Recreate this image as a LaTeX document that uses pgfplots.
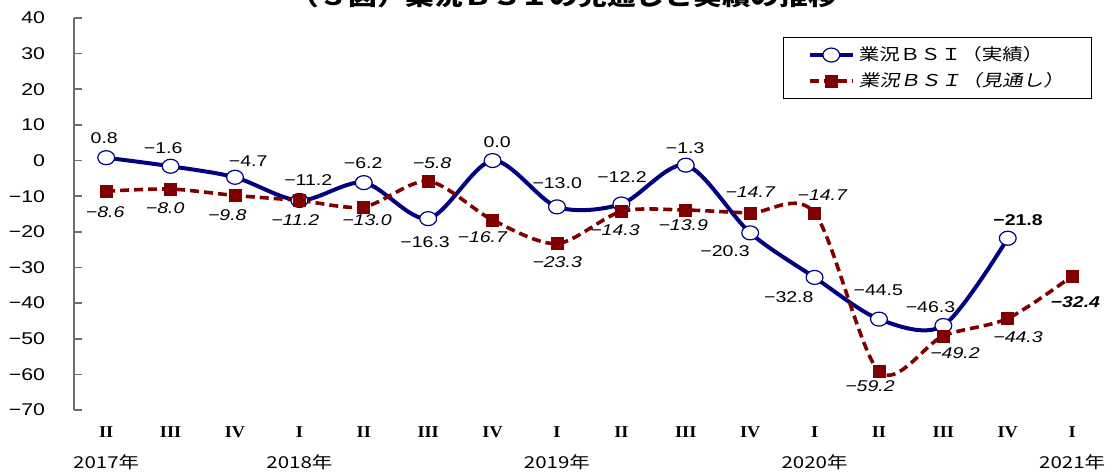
\documentclass[border=0pt]{standalone}
\usepackage{pgfplots}
\pgfplotsset{compat=1.18}
\usepackage{fontspec}
\setmainfont{Liberation Sans}[FakeStretch=1.25]
\newfontfamily\jp{Noto Sans CJK JP}[FakeStretch=1.25]
\newfontfamily\jpsl{Noto Sans CJK JP}[FakeStretch=1.25,FakeSlant=0.2]
\newfontfamily\rom{Liberation Serif}[FakeStretch=1.1]
\definecolor{bsiblue}{RGB}{0,0,128}
\definecolor{bsired}{RGB}{128,0,0}
\definecolor{axgray}{RGB}{110,110,110}
\begin{document}
\begin{tikzpicture}
\begin{axis}[
  at={(37pt,30.5pt)}, anchor=south west,
  scale only axis, width=518.4pt, height=196pt,
  xmin=-0.5, xmax=15.6, ymin=-70, ymax=40,
  axis x line=none, axis y line*=left,
  y axis line style={-, axgray, line width=0.8pt},
  ytick={-70,-60,-50,-40,-30,-20,-10,0,10,20,30,40},
  yticklabels={−70,−60,−50,−40,−30,−20,−10,0,10,20,30,40},
  tick align=inside, major tick length=4pt,
  ytick style={axgray, line width=0.8pt},
  yticklabel style={font=\fontsize{8.5}{10}\selectfont, xshift=-11pt},
  clip=false,
  legend cell align=left,
  legend image code/.code={\draw[mark repeat=2,mark phase=2] plot coordinates {(0cm,0cm)(0.38cm,0cm)(0.76cm,0cm)};},
  legend style={at={(rel axis cs:0.684,0.9515)}, anchor=north west, draw=black, line width=0.5pt,
    font=\fontsize{8.2}{10}\selectfont, inner xsep=12pt, inner ysep=2.5pt, row sep=0.5pt},
]
\addplot[bsiblue, line width=2pt, smooth, mark=*, mark size=3.5pt,
  mark options={solid, fill=white, draw=bsiblue, line width=0.6pt, xscale=1.2}]
  coordinates {(0,0.8)(1,-1.6)(2,-4.7)(3,-11.2)(4,-6.2)(5,-16.3)(6,0.0)(7,-13.0)
  (8,-12.2)(9,-1.3)(10,-20.3)(11,-32.8)(12,-44.5)(13,-46.3)(14,-21.8)};
\addlegendentry{\jp 業況ＢＳＩ（実績）\hspace{8pt}}
\addplot[bsired, line width=1.8pt, dash pattern=on 4.5pt off 2.5pt, smooth, mark=square*, mark size=3pt,
  mark options={solid, fill=bsired, line width=0.3pt}]
  coordinates {(0,-8.6)(1,-8.0)(2,-9.8)(3,-11.2)(4,-13.0)(5,-5.8)(6,-16.7)(7,-23.3)
  (8,-14.3)(9,-13.9)(10,-14.7)(11,-14.7)(12,-59.2)(13,-49.2)(14,-44.3)(15,-32.4)};
\addlegendentry{\jpsl 業況ＢＳＩ（見通し）\hspace{8pt}}
% labels actual
\tikzset{lab/.style={font=\fontsize{7.8}{9}\selectfont, inner sep=0pt},
         labr/.style={font=\fontsize{7.8}{9}\selectfont\itshape, inner sep=0pt}}
\node[lab] at (axis cs:-0.03,6.3) {0.8};
\node[lab] at (axis cs:0.885,3.5) {−1.6};
\node[lab] at (axis cs:2.205,-0.14) {−4.7};
\node[lab] at (axis cs:3.137,-5.47) {−11.2};
\node[lab] at (axis cs:3.99,-0.7) {−6.2};
\node[lab] at (axis cs:4.953,-22.87) {−16.3};
\node[lab] at (axis cs:6.07,5.19) {0.0};
\node[lab] at (axis cs:7.003,-6.31) {−13.0};
\node[lab] at (axis cs:8.01,-4.63) {−12.2};
\node[lab] at (axis cs:8.99,3.51) {−1.3};
\node[lab] at (axis cs:9.61,-25.4) {−20.3};
\node[lab] at (axis cs:10.6,-38.3) {−32.8};
\node[lab] at (axis cs:11.99,-36.3) {−44.5};
\node[lab] at (axis cs:12.8,-41.1) {−46.3};
\node[lab, font=\fontsize{7.8}{9}\selectfont\bfseries] at (axis cs:14.16,-16.7) {−21.8};
% labels forecast
\node[labr] at (axis cs:-0.015,-14.45) {−8.6};
\node[labr] at (axis cs:0.916,-13.3) {−8.0};
\node[labr] at (axis cs:1.88,-15.3) {−9.8};
\node[labr] at (axis cs:2.935,-16.7) {−11.2};
\node[labr] at (axis cs:4.05,-16.7) {−13.0};
\node[labr] at (axis cs:5.06,-0.7) {−5.8};
\node[labr] at (axis cs:5.84,-21.5) {−16.7};
\node[labr] at (axis cs:7.003,-28.5) {−23.3};
\node[labr] at (axis cs:7.9,-19.5) {−14.3};
\node[labr] at (axis cs:8.96,-18.1) {−13.9};
\node[labr] at (axis cs:10.0,-8.84) {−14.7};
\node[labr] at (axis cs:11.12,-9.7) {−14.7};
\node[labr] at (axis cs:11.86,-63.4) {−59.2};
\node[labr] at (axis cs:13.18,-54.0) {−49.2};
\node[labr] at (axis cs:14.16,-49.5) {−44.3};
\node[labr, font=\fontsize{7.8}{9}\selectfont\bfseries\itshape] at (axis cs:15.05,-39.7) {−32.4};
% quarter labels
\tikzset{q/.style={font=\rom\bfseries\fontsize{8.3}{9}\selectfont, inner sep=0pt},
         yr/.style={font=\jp\fontsize{8.2}{9}\selectfont, inner sep=0pt}}
\node[q] at (axis cs:0,-76.2) {II};
\node[q] at (axis cs:1,-76.2) {III};
\node[q] at (axis cs:2,-76.2) {IV};
\node[q] at (axis cs:3,-76.2) {I};
\node[q] at (axis cs:4,-76.2) {II};
\node[q] at (axis cs:5,-76.2) {III};
\node[q] at (axis cs:6,-76.2) {IV};
\node[q] at (axis cs:7,-76.2) {I};
\node[q] at (axis cs:8,-76.2) {II};
\node[q] at (axis cs:9,-76.2) {III};
\node[q] at (axis cs:10,-76.2) {IV};
\node[q] at (axis cs:11,-76.2) {I};
\node[q] at (axis cs:12,-76.2) {II};
\node[q] at (axis cs:13,-76.2) {III};
\node[q] at (axis cs:14,-76.2) {IV};
\node[q] at (axis cs:15,-76.2) {I};
\node[yr] at (axis cs:0,-84.6) {2017年};
\node[yr] at (axis cs:3,-84.6) {2018年};
\node[yr] at (axis cs:7,-84.6) {2019年};
\node[yr] at (axis cs:11,-84.6) {2020年};
\node[yr] at (axis cs:15,-84.6) {2021年};
\end{axis}
\node[font=\jp\bfseries\fontsize{11.5}{13}\selectfont, anchor=base] at (282pt,232.5pt) {（３図）業況ＢＳＩの見通しと実績の推移};
\pgfresetboundingbox
\path[use as bounding box] (0,0) rectangle (556pt,235.5pt);
\end{tikzpicture}
\end{document}
